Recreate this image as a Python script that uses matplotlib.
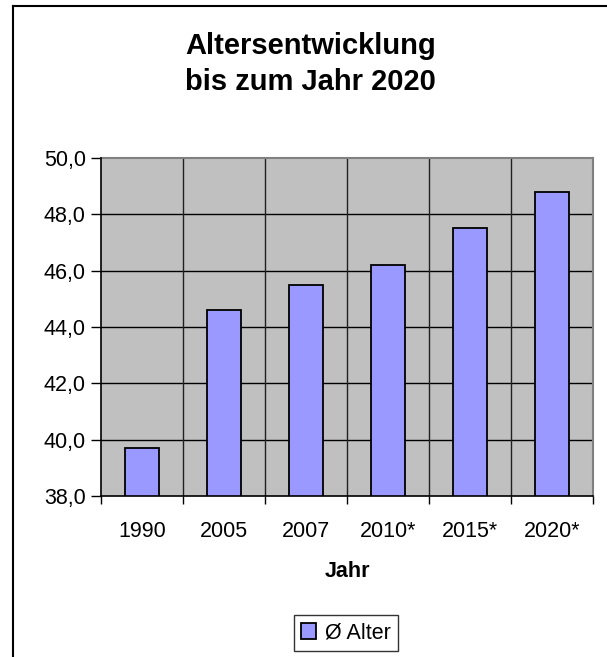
import numpy as np
import matplotlib.pyplot as plt
from matplotlib.ticker import FuncFormatter, FixedLocator
from matplotlib.lines import Line2D

# Average age per year (values marked * are projections)
years = ['1990', '2005', '2007', '2010*', '2015*', '2020*']
avg_age = [39.7, 44.6, 45.5, 46.2, 47.5, 48.8]
y_ticks = [38, 40, 42, 44, 46, 48, 50]

plt.rcParams['font.family'] = ['Liberation Sans', 'DejaVu Sans']

fig = plt.figure(figsize=(6.07, 6.57), dpi=100)
ax = fig.add_axes([101 / 607, 1 - 496 / 657, 492 / 607, 338 / 657])

x = np.arange(len(years))
ax.set_facecolor('#c0c0c0')
ax.bar(x, avg_age, width=0.41, color='#9999ff', edgecolor='black',
       linewidth=1.3, zorder=3, label='Ø Alter')

ax.set_xlim(-0.5, len(years) - 0.5)
ax.set_ylim(38, 50)

# horizontal grid at the y ticks, vertical grid between categories
for t in y_ticks[1:-1]:
    ax.axhline(t, color='black', linewidth=1, zorder=1)
for b in np.arange(0.5, len(years) - 0.5, 1.0):
    ax.axvline(b, color='#202020', linewidth=1, zorder=1)

ax.yaxis.set_major_locator(FixedLocator(y_ticks))
ax.yaxis.set_major_formatter(FuncFormatter(lambda v, p: f'{v:.1f}'.replace('.', ',')))
ax.set_xticks(x)
ax.set_xticklabels(years)
ax.xaxis.set_minor_locator(FixedLocator(np.arange(-0.5, len(years), 1.0)))
ax.tick_params(axis='x', which='major', length=0, pad=18, labelsize=15.5)
ax.tick_params(axis='x', which='minor', length=6, width=1, color='black')
ax.tick_params(axis='y', length=7, width=1, pad=4, labelsize=15.5)

for side in ['left', 'bottom']:
    ax.spines[side].set_color('black')
    ax.spines[side].set_linewidth(1.2)
    ax.spines[side].set_zorder(4)
for side in ['top', 'right']:
    ax.spines[side].set_color('#808080')
    ax.spines[side].set_linewidth(1.5)

ax.set_xlabel('Jahr', fontsize=15.5, fontweight='bold', labelpad=14)

fig.text(0.511, 1 - 64 / 657, 'Altersentwicklung\nbis zum Jahr 2020',
         ha='center', va='center', fontsize=21, fontweight='bold', linespacing=1.4)

leg = fig.legend(loc='center', bbox_to_anchor=(346 / 607, 1 - 633 / 657),
                 fontsize=15.5, frameon=True, fancybox=False, edgecolor='black',
                 handlelength=0.7, handleheight=0.7, handletextpad=0.4,
                 borderpad=0.35, borderaxespad=0)
leg.get_frame().set_linewidth(1)

# chart frame: only the top and left edges fall inside the image
fig.add_artist(Line2D([13 / 607, 1], [1 - 5.5 / 657, 1 - 5.5 / 657],
                      transform=fig.transFigure, color='black', linewidth=1.5))
fig.add_artist(Line2D([13 / 607, 13 / 607], [0, 1 - 5.5 / 657],
                      transform=fig.transFigure, color='black', linewidth=1.5))

fig.savefig('out.png', dpi=100)
